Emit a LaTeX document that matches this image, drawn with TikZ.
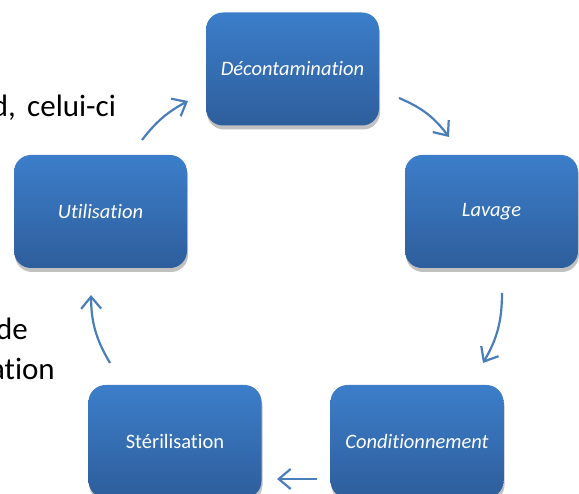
\documentclass[tikz,border=0pt]{standalone}
\usepackage{fontspec}
\setmainfont{Carlito}[Ligatures=NoCommon]
\usetikzlibrary{arrows.meta,shadows,shadings}
\definecolor{boxtop}{RGB}{60,126,202}
\definecolor{boxbot}{RGB}{46,94,156}
\definecolor{arrowc}{RGB}{74,126,187}
\tikzset{
  stepbox/.style={rounded corners=17pt, minimum width=173pt, minimum height=113pt,
    top color=boxtop, bottom color=boxbot, draw=none, text=white,
    font=\fontsize{20.5}{24}\selectfont,
    drop shadow={shadow xshift=1pt, shadow yshift=-4pt, opacity=0.35, fill=black!70}},
  cyc/.style={draw=arrowc, line width=2.2pt,
    -{Straight Barb[length=12pt,width=20pt,line width=2.2pt]}},
  bgtext/.style={font=\fontsize{31}{36}\selectfont, text=black, inner sep=0pt}
}
\begin{document}
\begin{tikzpicture}[x=1pt,y=-1pt]
\useasboundingbox (0,0) rectangle (579,494);
\node[bgtext, anchor=base east] (t0) at (16,117) {d,};
\node[bgtext, anchor=base west] (t1) at (27,117) {celui-ci};
\node[bgtext, anchor=base east] (t2) at (28,340) {de};
\node[bgtext, anchor=base east] (t3) at (55,380) {ation};
\node[stepbox] (dec) at (292.5,69) {\itshape Décontamination};
\node[stepbox] (lav) at (491.5,211.5) {\itshape Lavage};
\node[stepbox] (cond) at (417,441.5) {\itshape Conditionnement};
\node[stepbox] (ster) at (175,441.5) {Stérilisation};
\node[stepbox] (util) at (100.5,211.5) {\itshape Utilisation};
\coordinate (a1s) at (142,140); \coordinate (a1e) at (188,101);
\coordinate (a2s) at (399,98);  \coordinate (a2e) at (449,137);
\coordinate (a3s) at (502,293); \coordinate (a3e) at (483,363);
\coordinate (a4s) at (317,479); \coordinate (a4e) at (277,479);
\coordinate (a5s) at (110,363); \coordinate (a5e) at (91,295);
\draw[cyc] (a1s) to[bend left=12] (a1e);
\draw[cyc] (a2s) to[bend left=15] (a2e);
\draw[cyc] (a3s) to[bend left=15] (a3e);
\draw[cyc] (a4s) to (a4e);
\draw[cyc] (a5s) to[bend left=15] (a5e);
\end{tikzpicture}
\end{document}
